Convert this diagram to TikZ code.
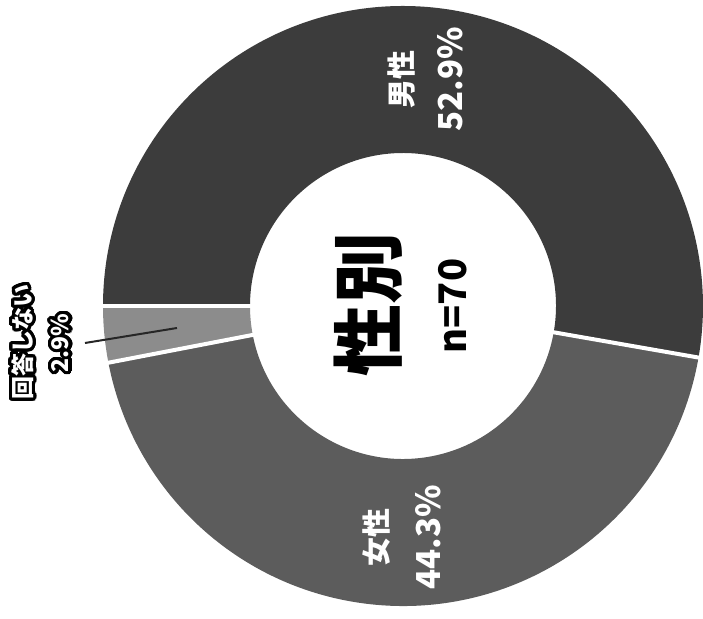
\documentclass[tikz,border=0pt]{standalone}
\usepackage{fontspec}
\usepackage{xcolor}
\usepackage{tikz}
\usepackage{contour}
\usetikzlibrary{positioning}
\newfontfamily\jp{Noto Sans CJK JP}
\contourlength{1.6pt}
\contournumber{32}
\definecolor{maleGray}{RGB}{60, 60, 60}
\definecolor{femaleGray}{RGB}{92, 92, 92}
\definecolor{noneGray}{RGB}{140, 140, 140}
\tikzset{
ring label/.style = {white, rotate = 90, inner sep = 0pt, font = \jp\bfseries\fontsize{14.5pt}{14.5pt}\selectfont},
ring value/.style = {white, rotate = 90, inner sep = 0pt, font = \jp\bfseries\fontsize{16.5pt}{16.5pt}\selectfont},
out label/.style = {white, rotate = 90, inner sep = 0pt, font = \jp\bfseries\fontsize{11.5pt}{11.5pt}\selectfont},
separator/.style = {white, line width = 2pt},
}
\tikzset{
pics/ring slice/.style args={#1, #2, #3}{
        code = {
        \path[fill = #3] (#1:153) arc[start angle = #1, end angle = #2, radius = 153] -- (#2:300) arc[start angle = #2, end angle = #1, radius = 300] -- cycle;
        }
    }
}
\begin{document}
\begin{tikzpicture}[x = 0.5pt, y = 0.5pt]
    \useasboundingbox (-403, -313) rectangle (300, 306);
    \draw (0, 0) pic{ring slice = {-9.9, 180, maleGray}};
    \draw (0, 0) pic{ring slice = {190.9, 350.1, femaleGray}};
    \draw (0, 0) pic{ring slice = {180, 190.9, noneGray}};
    \draw[separator] (180:150) -- (180:303);
    \draw[separator] (190.9:150) -- (190.9:303);
    \draw[separator] (-9.9:150) -- (-9.9:303);
    \node[ring label] (male) at (-2, 226) {男性};
    \node[ring value] (male pct) at (47, 227) {52.9\%};
    \node[ring label] (female) at (-26, -232) {女性};
    \node[ring value] (female pct) at (25, -231) {44.3\%};
    \node[rotate = 90, inner sep = 0pt, font = \jp\bfseries\fontsize{36pt}{36pt}\selectfont] (title) at (-35, 1) {性別};
    \node[rotate = 90, inner sep = 0pt, font = \jp\bfseries\fontsize{19pt}{19pt}\selectfont] (count) at (50, 0) {n=70};
    \node[out label] (none) at (-379, -36) {\contour{black}{回答しない}};
    \node[out label] (none pct) at (-341, -37) {\contour{black}{2.9\%}};
    \coordinate (lead a) at (-318, -37);
    \coordinate (lead b) at (-226, -22);
    \draw[black!85, line width = 1pt] (lead a) -- (lead b);
\end{tikzpicture}
\end{document}
